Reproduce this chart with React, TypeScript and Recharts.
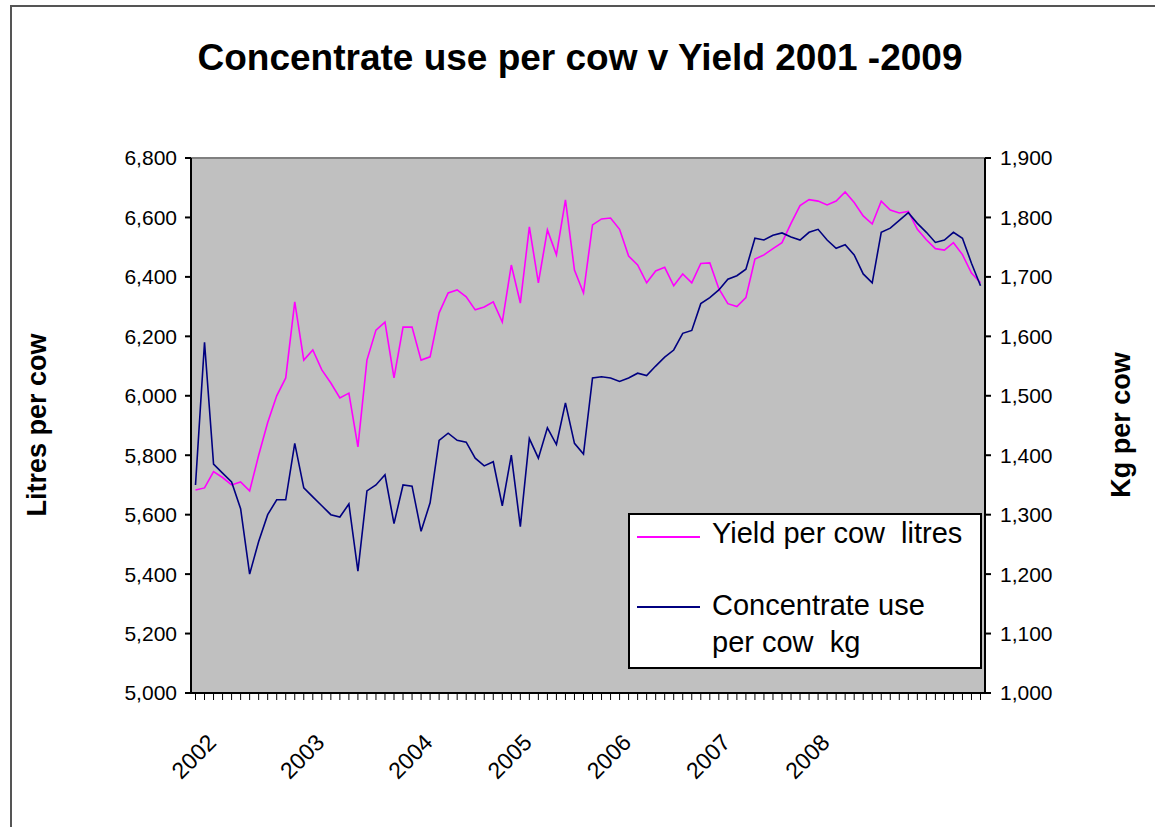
import { CartesianGrid, Legend, Line, LineChart, ReferenceLine, XAxis, YAxis } from "recharts";

const FONT = "Arial, 'Liberation Sans', sans-serif";
const PINK = "#FF00FF";
const NAVY = "#000080";

// yield per cow, litres (left axis)
const YIELD = [
  5683, 5690, 5745, 5725, 5700, 5710, 5680, 5800, 5910, 6000, 6060, 6316, 6120, 6154, 6087, 6043,
  5993, 6009, 5828, 6120, 6221, 6248, 6060, 6231, 6231, 6120, 6131, 6279, 6346, 6356, 6333, 6289,
  6299, 6316, 6248, 6440, 6312, 6568, 6380, 6558, 6474, 6659, 6423, 6346, 6575, 6595, 6598, 6560,
  6470, 6440, 6380, 6420, 6432, 6370, 6410, 6380, 6445, 6447, 6360, 6310, 6300, 6330, 6460, 6474,
  6495, 6515, 6580, 6640, 6660, 6655, 6642, 6655, 6686, 6650, 6605, 6578, 6655, 6625, 6615, 6620,
  6560, 6525, 6495, 6490, 6515, 6475, 6413, 6380,
];

// concentrate use per cow, kg (right axis)
const CONC = [
  1350, 1590, 1385, 1370, 1355, 1310, 1200, 1255, 1300, 1325, 1325, 1420, 1345, 1330, 1315, 1300,
  1296, 1318, 1205, 1340, 1350, 1367, 1285, 1350, 1348, 1272, 1320, 1425, 1437, 1425, 1422, 1395,
  1382, 1389, 1315, 1400, 1280, 1428, 1395, 1446, 1418, 1488, 1420, 1402, 1530, 1532, 1530, 1524,
  1530, 1538, 1534, 1550, 1565, 1577, 1605, 1610, 1655, 1665, 1678, 1696, 1702, 1713, 1765, 1762,
  1770, 1774, 1767, 1762, 1775, 1780, 1762, 1748, 1754, 1737, 1705, 1690, 1775, 1782, 1795, 1808,
  1790, 1775, 1758, 1762, 1775, 1765, 1723, 1685,
];

const YEAR_LABELS = ["2002", "2003", "2004", "2005", "2006", "2007", "2008"];
const YEAR_AT = [2, 14, 26, 37, 48, 59, 70];

const LEFT_TICKS = [5000, 5200, 5400, 5600, 5800, 6000, 6200, 6400, 6600, 6800];
const RIGHT_TICKS = [1000, 1100, 1200, 1300, 1400, 1500, 1600, 1700, 1800, 1900];

const data = YIELD.map((y, i) => ({ i, yieldL: y, conc: CONC[i] }));

const fmt = (v: number) => v.toLocaleString("en-US");

function YearTick(props: any) {
  const { x, y, payload } = props;
  const k = YEAR_AT.indexOf(payload.value);
  if (k < 0) return <g />;
  const ax = x + 4;
  const ay = y + 42;
  return (
    <text
      x={ax}
      y={ay}
      transform={`rotate(-45, ${ax}, ${ay})`}
      textAnchor="end"
      fontSize={23}
      fontFamily={FONT}
      fill="#000"
    >
      {YEAR_LABELS[k]}
    </text>
  );
}

function LegendBox() {
  return (
    <div
      style={{
        width: 354,
        height: 156,
        boxSizing: "border-box",
        border: "2px solid #000",
        background: "#fff",
        position: "relative",
        fontFamily: FONT,
        fontSize: 29,
        lineHeight: "37px",
        color: "#000",
        whiteSpace: "pre",
      }}
    >
      <div style={{ position: "absolute", left: 7, top: 21, width: 63, height: 2, background: PINK }} />
      <div style={{ position: "absolute", left: 82, top: 0 }}>Yield per cow  litres</div>
      <div style={{ position: "absolute", left: 7, top: 91, width: 63, height: 2, background: NAVY }} />
      <div style={{ position: "absolute", left: 82, top: 72 }}>
        {"Concentrate use\nper cow  kg"}
      </div>
    </div>
  );
}

export default function App() {
  return (
    <div style={{ position: "absolute", left: 0, top: 0, width: 1155, height: 827, overflow: "hidden", background: "#fff" }}>
      <div
        style={{
          position: "absolute",
          left: 10,
          top: 5,
          width: 1160,
          height: 840,
          border: "2px solid #555",
          boxSizing: "border-box",
        }}
      />
      <svg width={1155} height={100} style={{ position: "absolute", left: 0, top: 0 }}>
        <text x={580} y={70} textAnchor="middle" fontSize={37} fontWeight="bold" fontFamily={FONT} fill="#000">
          Concentrate use per cow v Yield 2001 -2009
        </text>
      </svg>
      <div style={{ position: "absolute", left: 0, top: 0 }}>
        <LineChart width={1155} height={827} data={data} margin={{ top: 158, right: 90, bottom: 54, left: 111 }}>
          <CartesianGrid horizontal={false} vertical={false} fill="#C0C0C0" />
          <XAxis
            dataKey="i"
            interval={0}
            height={80}
            tickSize={7}
            padding={{ left: 4.5, right: 4.5 }}
            tick={<YearTick />}
            axisLine={{ stroke: "#000", strokeWidth: 2 }}
            tickLine={{ stroke: "#000" }}
          />
          <YAxis
            yAxisId="left"
            width={80}
            domain={[5000, 6800]}
            ticks={LEFT_TICKS}
            tickFormatter={fmt}
            tickSize={6}
            tickMargin={8}
            axisLine={{ stroke: "#000", strokeWidth: 2 }}
            tickLine={{ stroke: "#000", strokeWidth: 2 }}
            tick={{ fontSize: 21, fontFamily: FONT, fill: "#000" }}
            label={{
              content: () => (
                <text
                  x={46}
                  y={425}
                  transform="rotate(-90, 46, 425)"
                  textAnchor="middle"
                  fontSize={27}
                  fontWeight="bold"
                  fontFamily={FONT}
                  fill="#000"
                >
                  Litres per cow
                </text>
              ),
            }}
          />
          <YAxis
            yAxisId="right"
            orientation="right"
            width={80}
            domain={[1000, 1900]}
            ticks={RIGHT_TICKS}
            tickFormatter={fmt}
            tickSize={6}
            tickMargin={9}
            axisLine={{ stroke: "#000", strokeWidth: 2 }}
            tickLine={{ stroke: "#000", strokeWidth: 2 }}
            tick={{ fontSize: 21, fontFamily: FONT, fill: "#000" }}
            label={{
              content: () => (
                <text
                  x={1130}
                  y={425}
                  transform="rotate(-90, 1130, 425)"
                  textAnchor="middle"
                  fontSize={27}
                  fontWeight="bold"
                  fontFamily={FONT}
                  fill="#000"
                >
                  Kg per cow
                </text>
              ),
            }}
          />
          <ReferenceLine yAxisId="left" y={6800} stroke="#808080" strokeWidth={2} />
          <Legend
            layout="horizontal"
            verticalAlign="middle"
            align="center"
            wrapperStyle={{ left: 628, top: 513, width: 354, height: 156 }}
            content={() => <LegendBox />}
          />
          <Line
            yAxisId="left"
            type="linear"
            dataKey="yieldL"
            name="Yield per cow  litres"
            stroke={PINK}
            strokeWidth={1.6}
            dot={false}
            isAnimationActive={false}
          />
          <Line
            yAxisId="right"
            type="linear"
            dataKey="conc"
            name="Concentrate use per cow  kg"
            stroke={NAVY}
            strokeWidth={1.6}
            dot={false}
            isAnimationActive={false}
          />
        </LineChart>
      </div>
    </div>
  );
}
